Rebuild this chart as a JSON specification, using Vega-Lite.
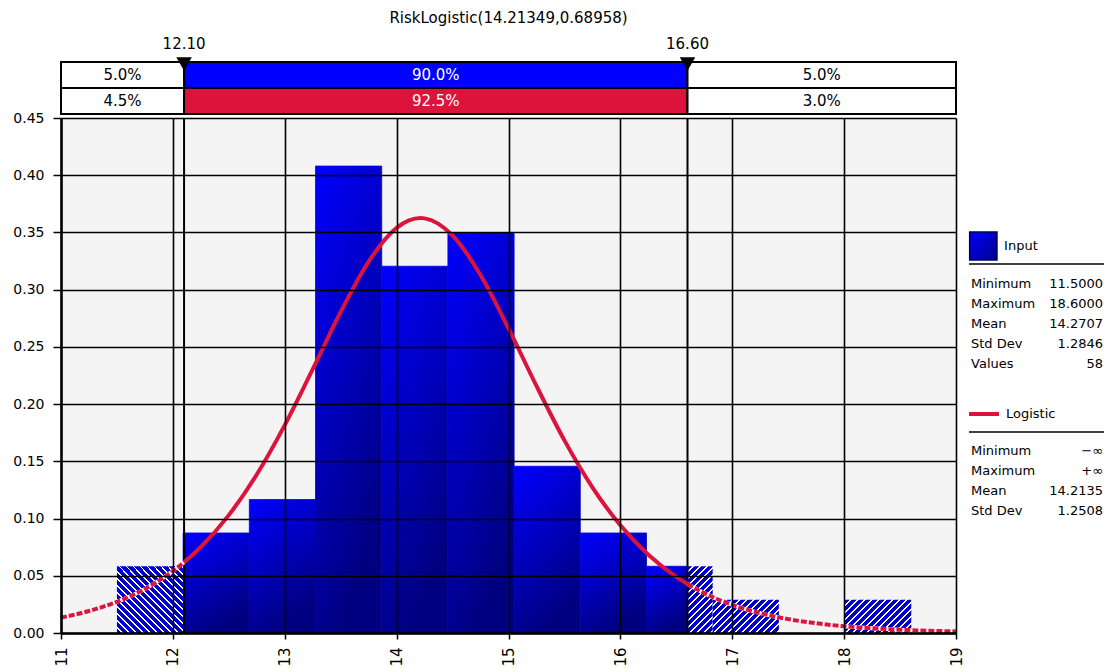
{
  "$schema": "https://vega.github.io/schema/vega-lite/v6.json",
  "padding": {"left": 12, "top": 11, "right": 4, "bottom": 0},
  "background": "white",
  "config": {"font": "DejaVu Sans", "view": {"stroke": null}},
  "datasets": {
    "bins": [
      {"start": 11.5, "end": 12.0917, "density": 0.0583, "zone": "out", "id": "a"},
      {"start": 12.0917, "end": 12.6833, "density": 0.0874, "zone": "in", "id": "s1"},
      {"start": 12.6833, "end": 13.275, "density": 0.1166, "zone": "in", "id": "s2"},
      {"start": 13.275, "end": 13.8667, "density": 0.408, "zone": "in", "id": "s3"},
      {"start": 13.8667, "end": 14.4583, "density": 0.3205, "zone": "in", "id": "s4"},
      {"start": 14.4583, "end": 15.05, "density": 0.3497, "zone": "in", "id": "s5"},
      {"start": 15.05, "end": 15.6417, "density": 0.1457, "zone": "in", "id": "s6"},
      {"start": 15.6417, "end": 16.2333, "density": 0.0874, "zone": "in", "id": "s7"},
      {"start": 16.2333, "end": 16.6, "density": 0.0583, "zone": "in", "id": "s8"},
      {"start": 16.6, "end": 16.825, "density": 0.0583, "zone": "out", "id": "b"},
      {"start": 16.825, "end": 17.4167, "density": 0.0291, "zone": "out", "id": "c"},
      {"start": 18.0083, "end": 18.6, "density": 0.0291, "zone": "out", "id": "d"}
    ],
    "curve": [
      {"x": 11, "y": 0.01347, "part": "left"},
      {"x": 11.25, "y": 0.0192, "part": "left"},
      {"x": 11.5, "y": 0.02727, "part": "left"},
      {"x": 11.75, "y": 0.03854, "part": "left"},
      {"x": 12, "y": 0.05408, "part": "left"},
      {"x": 12.1, "y": 0.06177, "part": "left"},
      {"x": 12.1, "y": 0.06177, "part": "mid"},
      {"x": 12.25, "y": 0.07514, "part": "mid"},
      {"x": 12.5, "y": 0.10298, "part": "mid"},
      {"x": 12.75, "y": 0.13851, "part": "mid"},
      {"x": 13, "y": 0.18165, "part": "mid"},
      {"x": 13.25, "y": 0.23051, "part": "mid"},
      {"x": 13.5, "y": 0.28052, "part": "mid"},
      {"x": 13.75, "y": 0.32449, "part": "mid"},
      {"x": 14, "y": 0.35399, "part": "mid"},
      {"x": 14.2135, "y": 0.36254, "part": "mid"},
      {"x": 14.25, "y": 0.36229, "part": "mid"},
      {"x": 14.5, "y": 0.34733, "part": "mid"},
      {"x": 14.75, "y": 0.31277, "part": "mid"},
      {"x": 15, "y": 0.26617, "part": "mid"},
      {"x": 15.25, "y": 0.21586, "part": "mid"},
      {"x": 15.5, "y": 0.16833, "part": "mid"},
      {"x": 15.75, "y": 0.12731, "part": "mid"},
      {"x": 16, "y": 0.09408, "part": "mid"},
      {"x": 16.25, "y": 0.06834, "part": "mid"},
      {"x": 16.5, "y": 0.04902, "part": "mid"},
      {"x": 16.6, "y": 0.04281, "part": "mid"},
      {"x": 16.6, "y": 0.04281, "part": "right"},
      {"x": 16.75, "y": 0.03486, "part": "right"},
      {"x": 17, "y": 0.02462, "part": "right"},
      {"x": 17.25, "y": 0.01732, "part": "right"},
      {"x": 17.5, "y": 0.01214, "part": "right"},
      {"x": 17.75, "y": 0.00849, "part": "right"},
      {"x": 18, "y": 0.00593, "part": "right"},
      {"x": 18.25, "y": 0.00414, "part": "right"},
      {"x": 18.5, "y": 0.00288, "part": "right"},
      {"x": 18.75, "y": 0.00201, "part": "right"},
      {"x": 19, "y": 0.0014, "part": "right"}
    ],
    "delims": [
      {"value": 12.1, "label": "12.10"},
      {"value": 16.6, "label": "16.60"}
    ],
    "topbars": [
      {"row": "Input", "start": 11, "end": 12.1, "label": "5.0%", "zone": "left"},
      {"row": "Input", "start": 12.1, "end": 16.6, "label": "90.0%", "zone": "mid"},
      {"row": "Input", "start": 16.6, "end": 19, "label": "5.0%", "zone": "right"},
      {"row": "Logistic", "start": 11, "end": 12.1, "label": "4.5%", "zone": "left"},
      {"row": "Logistic", "start": 12.1, "end": 16.6, "label": "92.5%", "zone": "mid"},
      {"row": "Logistic", "start": 16.6, "end": 19, "label": "3.0%", "zone": "right"}
    ],
    "stats": [
      {"label": "Minimum", "value": "11.5000", "line": 12.4},
      {"label": "Maximum", "value": "18.6000", "line": 13.4},
      {"label": "Mean", "value": "14.2707", "line": 14.4},
      {"label": "Std Dev", "value": "1.2846", "line": 15.4},
      {"label": "Values", "value": "58", "line": 16.4},
      {"label": "Minimum", "value": "−∞", "line": 20.75},
      {"label": "Maximum", "value": "+∞", "line": 21.75},
      {"label": "Mean", "value": "14.2135", "line": 22.75},
      {"label": "Std Dev", "value": "1.2508", "line": 23.75}
    ]
  },
  "hconcat": [
    {
      "spacing": 4,
      "bounds": "flush",
      "vconcat": [
        {
          "width": 895,
          "height": 78,
          "title": {"text": "RiskLogistic(14.21349,0.68958)", "fontSize": 15, "fontWeight": "normal", "offset": 10, "color": "black", "font": "DejaVu Sans"},
          "layer": [
            {
              "data": {"name": "topbars"},
              "mark": {"type": "bar", "stroke": "black", "strokeWidth": 2},
              "encoding": {
                "x": {"field": "start", "type": "quantitative", "scale": {"domain": [11, 19], "nice": false, "zero": false}, "axis": null},
                "x2": {"field": "end"},
                "y": {"field": "row", "type": "nominal", "scale": {"domain": ["marker", "Input", "Logistic"], "paddingInner": 0, "paddingOuter": 0}, "axis": null},
                "fill": {"condition": [{"test": "datum.zone == 'mid' && datum.row == 'Input'", "value": "#0000ff"}, {"test": "datum.zone == 'mid'", "value": "#dc143c"}], "value": "white"}
              }
            },
            {
              "data": {"name": "topbars"},
              "transform": [{"fold": ["start", "end"], "as": ["edge", "pos"]}],
              "mark": {"type": "text", "fontSize": 15, "baseline": "middle"},
              "encoding": {
                "x": {"aggregate": "mean", "field": "pos", "type": "quantitative"},
                "y": {"field": "row", "type": "nominal"},
                "text": {"field": "label"},
                "detail": {"field": "zone"},
                "color": {"condition": {"test": "datum.zone == 'mid'", "value": "white"}, "value": "black"}
              }
            },
            {
              "data": {"name": "delims"},
              "mark": {"type": "point", "shape": "triangle-down", "filled": true, "color": "black", "size": 240, "opacity": 1},
              "encoding": {
                "x": {"field": "value", "type": "quantitative"},
                "y": {"datum": "marker", "type": "nominal", "bandPosition": 1.08}
              }
            },
            {
              "data": {"name": "delims"},
              "mark": {"type": "text", "fontSize": 15, "baseline": "middle", "color": "black"},
              "encoding": {
                "x": {"field": "value", "type": "quantitative"},
                "y": {"datum": "marker", "type": "nominal", "bandPosition": 0.31},
                "text": {"field": "label"}
              }
            }
          ]
        },
        {
          "width": 895,
          "height": 515,
          "view": {"fill": "#f4f4f4", "stroke": null},
          "layer": [
            {
              "data": {"name": "bins"},
              "transform": [{"filter": "datum.zone == 'in'"}],
              "mark": {"type": "rect",
                "fill": {"gradient": "linear", "x1": 0, "y1": 0, "x2": 0.4, "y2": 1, "stops": [{"offset": 0, "color": "#0000ff"}, {"offset": 1, "color": "#000080"}]},
                "stroke": {"gradient": "linear", "x1": 0, "y1": 0, "x2": 0.4, "y2": 1, "stops": [{"offset": 0, "color": "#0000ff"}, {"offset": 1, "color": "#000080"}]},
                "strokeWidth": 0.8},
              "encoding": {
                "x": {"field": "start", "type": "quantitative", "scale": {"domain": [11, 19], "nice": false, "zero": false},
                  "axis": {"values": [11, 12, 13, 14, 15, 16, 17, 18, 19], "format": "d", "grid": true, "gridColor": "black", "gridWidth": 1.6, "gridOpacity": 1, "domainColor": "black", "domainWidth": 2.5, "tickColor": "black", "tickSize": 6, "tickWidth": 1.5, "labelAngle": 270, "labelFontSize": 15, "labelColor": "black", "labelPadding": 8, "title": null, "zindex": 1}},
                "x2": {"field": "end"},
                "y": {"field": "density", "type": "quantitative", "scale": {"domain": [0, 0.45], "nice": false},
                  "axis": {"values": [0, 0.05, 0.1, 0.15, 0.2, 0.25, 0.3, 0.35, 0.4, 0.45], "format": ".2f", "grid": true, "gridColor": "black", "gridWidth": 1.6, "gridOpacity": 1, "domainColor": "black", "domainWidth": 2.5, "tickColor": "black", "tickSize": 8, "tickWidth": 1.5, "labelFontSize": 14, "labelColor": "black", "labelPadding": 9, "title": null, "zindex": 1}},
                "y2": {"datum": 0}
              }
            },
            {
              "data": {"name": "bins"},
              "transform": [{"filter": "datum.zone == 'out'"}],
              "mark": {"type": "rect"},
              "encoding": {
                "x": {"field": "start", "type": "quantitative"},
                "x2": {"field": "end"},
                "y": {"field": "density", "type": "quantitative"},
                "y2": {"datum": 0},
                "fill": {
                  "condition": [
                    {"test": "datum.id == 'a'", "value": {"gradient": "linear", "x1": 0, "y1": 1, "x2": 1.0495, "y2": -0.0574, "stops": [
                      {"offset": 0, "color": "#0000cc"}, {"offset": 0.036, "color": "#0000cc"}, {"offset": 0.036, "color": "#fff"}, {"offset": 0.05, "color": "#fff"},
                      {"offset": 0.05, "color": "#0000cc"}, {"offset": 0.086, "color": "#0000cc"}, {"offset": 0.086, "color": "#fff"}, {"offset": 0.1, "color": "#fff"},
                      {"offset": 0.1, "color": "#0000cc"}, {"offset": 0.136, "color": "#0000cc"}, {"offset": 0.136, "color": "#fff"}, {"offset": 0.15, "color": "#fff"},
                      {"offset": 0.15, "color": "#0000cc"}, {"offset": 0.186, "color": "#0000cc"}, {"offset": 0.186, "color": "#fff"}, {"offset": 0.2, "color": "#fff"},
                      {"offset": 0.2, "color": "#0000cc"}, {"offset": 0.236, "color": "#0000cc"}, {"offset": 0.236, "color": "#fff"}, {"offset": 0.25, "color": "#fff"},
                      {"offset": 0.25, "color": "#0000cc"}, {"offset": 0.286, "color": "#0000cc"}, {"offset": 0.286, "color": "#fff"}, {"offset": 0.3, "color": "#fff"},
                      {"offset": 0.3, "color": "#0000cc"}, {"offset": 0.336, "color": "#0000cc"}, {"offset": 0.336, "color": "#fff"}, {"offset": 0.35, "color": "#fff"},
                      {"offset": 0.35, "color": "#0000cc"}, {"offset": 0.386, "color": "#0000cc"}, {"offset": 0.386, "color": "#fff"}, {"offset": 0.4, "color": "#fff"},
                      {"offset": 0.4, "color": "#0000cc"}, {"offset": 0.436, "color": "#0000cc"}, {"offset": 0.436, "color": "#fff"}, {"offset": 0.45, "color": "#fff"},
                      {"offset": 0.45, "color": "#0000cc"}, {"offset": 0.486, "color": "#0000cc"}, {"offset": 0.486, "color": "#fff"}, {"offset": 0.5, "color": "#fff"},
                      {"offset": 0.5, "color": "#0000cc"}, {"offset": 0.536, "color": "#0000cc"}, {"offset": 0.536, "color": "#fff"}, {"offset": 0.55, "color": "#fff"},
                      {"offset": 0.55, "color": "#0000cc"}, {"offset": 0.586, "color": "#0000cc"}, {"offset": 0.586, "color": "#fff"}, {"offset": 0.6, "color": "#fff"},
                      {"offset": 0.6, "color": "#0000cc"}, {"offset": 0.636, "color": "#0000cc"}, {"offset": 0.636, "color": "#fff"}, {"offset": 0.65, "color": "#fff"},
                      {"offset": 0.65, "color": "#0000cc"}, {"offset": 0.686, "color": "#0000cc"}, {"offset": 0.686, "color": "#fff"}, {"offset": 0.7, "color": "#fff"},
                      {"offset": 0.7, "color": "#0000cc"}, {"offset": 0.736, "color": "#0000cc"}, {"offset": 0.736, "color": "#fff"}, {"offset": 0.75, "color": "#fff"},
                      {"offset": 0.75, "color": "#0000cc"}, {"offset": 0.786, "color": "#0000cc"}, {"offset": 0.786, "color": "#fff"}, {"offset": 0.8, "color": "#fff"},
                      {"offset": 0.8, "color": "#0000cc"}, {"offset": 0.836, "color": "#0000cc"}, {"offset": 0.836, "color": "#fff"}, {"offset": 0.85, "color": "#fff"},
                      {"offset": 0.85, "color": "#0000cc"}, {"offset": 0.886, "color": "#0000cc"}, {"offset": 0.886, "color": "#fff"}, {"offset": 0.9, "color": "#fff"},
                      {"offset": 0.9, "color": "#0000cc"}, {"offset": 0.936, "color": "#0000cc"}, {"offset": 0.936, "color": "#fff"}, {"offset": 0.95, "color": "#fff"},
                      {"offset": 0.95, "color": "#0000cc"}, {"offset": 0.986, "color": "#0000cc"}, {"offset": 0.986, "color": "#fff"}, {"offset": 1, "color": "#fff"}
                    ]}},
                    {"test": "datum.id == 'b'", "value": {"gradient": "linear", "x1": 0, "y1": 0, "x2": 0.6933, "y2": 1.8373, "stops": [
                      {"offset": 0, "color": "#0000cc"}, {"offset": 0.036, "color": "#0000cc"}, {"offset": 0.036, "color": "#fff"}, {"offset": 0.05, "color": "#fff"},
                      {"offset": 0.05, "color": "#0000cc"}, {"offset": 0.086, "color": "#0000cc"}, {"offset": 0.086, "color": "#fff"}, {"offset": 0.1, "color": "#fff"},
                      {"offset": 0.1, "color": "#0000cc"}, {"offset": 0.136, "color": "#0000cc"}, {"offset": 0.136, "color": "#fff"}, {"offset": 0.15, "color": "#fff"},
                      {"offset": 0.15, "color": "#0000cc"}, {"offset": 0.186, "color": "#0000cc"}, {"offset": 0.186, "color": "#fff"}, {"offset": 0.2, "color": "#fff"},
                      {"offset": 0.2, "color": "#0000cc"}, {"offset": 0.236, "color": "#0000cc"}, {"offset": 0.236, "color": "#fff"}, {"offset": 0.25, "color": "#fff"},
                      {"offset": 0.25, "color": "#0000cc"}, {"offset": 0.286, "color": "#0000cc"}, {"offset": 0.286, "color": "#fff"}, {"offset": 0.3, "color": "#fff"},
                      {"offset": 0.3, "color": "#0000cc"}, {"offset": 0.336, "color": "#0000cc"}, {"offset": 0.336, "color": "#fff"}, {"offset": 0.35, "color": "#fff"},
                      {"offset": 0.35, "color": "#0000cc"}, {"offset": 0.386, "color": "#0000cc"}, {"offset": 0.386, "color": "#fff"}, {"offset": 0.4, "color": "#fff"},
                      {"offset": 0.4, "color": "#0000cc"}, {"offset": 0.436, "color": "#0000cc"}, {"offset": 0.436, "color": "#fff"}, {"offset": 0.45, "color": "#fff"},
                      {"offset": 0.45, "color": "#0000cc"}, {"offset": 0.486, "color": "#0000cc"}, {"offset": 0.486, "color": "#fff"}, {"offset": 0.5, "color": "#fff"},
                      {"offset": 0.5, "color": "#0000cc"}, {"offset": 0.536, "color": "#0000cc"}, {"offset": 0.536, "color": "#fff"}, {"offset": 0.55, "color": "#fff"},
                      {"offset": 0.55, "color": "#0000cc"}, {"offset": 0.586, "color": "#0000cc"}, {"offset": 0.586, "color": "#fff"}, {"offset": 0.6, "color": "#fff"},
                      {"offset": 0.6, "color": "#0000cc"}, {"offset": 0.636, "color": "#0000cc"}, {"offset": 0.636, "color": "#fff"}, {"offset": 0.65, "color": "#fff"},
                      {"offset": 0.65, "color": "#0000cc"}, {"offset": 0.686, "color": "#0000cc"}, {"offset": 0.686, "color": "#fff"}, {"offset": 0.7, "color": "#fff"},
                      {"offset": 0.7, "color": "#0000cc"}, {"offset": 0.736, "color": "#0000cc"}, {"offset": 0.736, "color": "#fff"}, {"offset": 0.75, "color": "#fff"},
                      {"offset": 0.75, "color": "#0000cc"}, {"offset": 1, "color": "#0000cc"}
                    ]}}
                  ],
                  "value": {"gradient": "linear", "x1": 0, "y1": 0, "x2": 1.6878, "y2": 0.849, "stops": [
                    {"offset": 0, "color": "#0000cc"}, {"offset": 0.036, "color": "#0000cc"}, {"offset": 0.036, "color": "#fff"}, {"offset": 0.05, "color": "#fff"},
                    {"offset": 0.05, "color": "#0000cc"}, {"offset": 0.086, "color": "#0000cc"}, {"offset": 0.086, "color": "#fff"}, {"offset": 0.1, "color": "#fff"},
                    {"offset": 0.1, "color": "#0000cc"}, {"offset": 0.136, "color": "#0000cc"}, {"offset": 0.136, "color": "#fff"}, {"offset": 0.15, "color": "#fff"},
                    {"offset": 0.15, "color": "#0000cc"}, {"offset": 0.186, "color": "#0000cc"}, {"offset": 0.186, "color": "#fff"}, {"offset": 0.2, "color": "#fff"},
                    {"offset": 0.2, "color": "#0000cc"}, {"offset": 0.236, "color": "#0000cc"}, {"offset": 0.236, "color": "#fff"}, {"offset": 0.25, "color": "#fff"},
                    {"offset": 0.25, "color": "#0000cc"}, {"offset": 0.286, "color": "#0000cc"}, {"offset": 0.286, "color": "#fff"}, {"offset": 0.3, "color": "#fff"},
                    {"offset": 0.3, "color": "#0000cc"}, {"offset": 0.336, "color": "#0000cc"}, {"offset": 0.336, "color": "#fff"}, {"offset": 0.35, "color": "#fff"},
                    {"offset": 0.35, "color": "#0000cc"}, {"offset": 0.386, "color": "#0000cc"}, {"offset": 0.386, "color": "#fff"}, {"offset": 0.4, "color": "#fff"},
                    {"offset": 0.4, "color": "#0000cc"}, {"offset": 0.436, "color": "#0000cc"}, {"offset": 0.436, "color": "#fff"}, {"offset": 0.45, "color": "#fff"},
                    {"offset": 0.45, "color": "#0000cc"}, {"offset": 0.486, "color": "#0000cc"}, {"offset": 0.486, "color": "#fff"}, {"offset": 0.5, "color": "#fff"},
                    {"offset": 0.5, "color": "#0000cc"}, {"offset": 0.536, "color": "#0000cc"}, {"offset": 0.536, "color": "#fff"}, {"offset": 0.55, "color": "#fff"},
                    {"offset": 0.55, "color": "#0000cc"}, {"offset": 0.586, "color": "#0000cc"}, {"offset": 0.586, "color": "#fff"}, {"offset": 0.6, "color": "#fff"},
                    {"offset": 0.6, "color": "#0000cc"}, {"offset": 0.636, "color": "#0000cc"}, {"offset": 0.636, "color": "#fff"}, {"offset": 0.65, "color": "#fff"},
                    {"offset": 0.65, "color": "#0000cc"}, {"offset": 0.686, "color": "#0000cc"}, {"offset": 0.686, "color": "#fff"}, {"offset": 0.7, "color": "#fff"},
                    {"offset": 0.7, "color": "#0000cc"}, {"offset": 0.736, "color": "#0000cc"}, {"offset": 0.736, "color": "#fff"}, {"offset": 0.75, "color": "#fff"},
                    {"offset": 0.75, "color": "#0000cc"}, {"offset": 1, "color": "#0000cc"}
                  ]}
                }
              }
            },
            {
              "data": {"name": "delims"},
              "mark": {"type": "rule", "color": "black", "strokeWidth": 2},
              "encoding": {"x": {"field": "value", "type": "quantitative"}}
            },
            {
              "data": {"name": "curve"},
              "transform": [{"filter": "datum.part != 'mid'"}],
              "mark": {"type": "line", "color": "white", "strokeWidth": 4, "interpolate": "monotone"},
              "encoding": {
                "x": {"field": "x", "type": "quantitative"},
                "y": {"field": "y", "type": "quantitative"},
                "detail": {"field": "part"}
              }
            },
            {
              "data": {"name": "curve"},
              "transform": [{"filter": "datum.part != 'mid'"}],
              "mark": {"type": "line", "color": "#dc143c", "strokeWidth": 4, "interpolate": "monotone", "strokeDash": [6, 2]},
              "encoding": {
                "x": {"field": "x", "type": "quantitative"},
                "y": {"field": "y", "type": "quantitative"},
                "detail": {"field": "part"}
              }
            },
            {
              "data": {"name": "curve"},
              "transform": [{"filter": "datum.part == 'mid'"}],
              "mark": {"type": "line", "color": "#dc143c", "strokeWidth": 4, "interpolate": "monotone"},
              "encoding": {
                "x": {"field": "x", "type": "quantitative"},
                "y": {"field": "y", "type": "quantitative"}
              }
            }
          ]
        }
      ]
    },
    {
      "width": 135,
      "height": 597,
      "layer": [
        {
          "data": {"values": [{}]},
          "mark": {"type": "rect", "fill": {"gradient": "linear", "x1": 0, "y1": 0, "x2": 1, "y2": 1, "stops": [{"offset": 0, "color": "#0000ff"}, {"offset": 1, "color": "#00008b"}]}, "stroke": "#000050", "strokeWidth": 1.5},
          "encoding": {
            "x": {"datum": 0.005, "type": "quantitative", "scale": {"domain": [0, 1], "nice": false, "zero": false}, "axis": null},
            "x2": {"datum": 0.207},
            "y": {"datum": 9.8, "type": "quantitative", "scale": {"domain": [0, 29.85], "nice": false, "zero": false, "reverse": true}, "axis": null},
            "y2": {"datum": 11.2}
          }
        },
        {
          "data": {"values": [{}]},
          "mark": {"type": "text", "text": "Input", "fontSize": 13, "align": "left", "baseline": "middle", "color": "black"},
          "encoding": {"x": {"datum": 0.26, "type": "quantitative"}, "y": {"datum": 10.5, "type": "quantitative"}}
        },
        {
          "data": {"values": [{}]},
          "mark": {"type": "rule", "color": "black", "strokeWidth": 1.5},
          "encoding": {"x": {"datum": 0, "type": "quantitative"}, "x2": {"datum": 1}, "y": {"datum": 11.4, "type": "quantitative"}}
        },
        {
          "data": {"values": [{}]},
          "mark": {"type": "rule", "color": "#dc143c", "strokeWidth": 4},
          "encoding": {"x": {"datum": 0, "type": "quantitative"}, "x2": {"datum": 0.222}, "y": {"datum": 18.9, "type": "quantitative"}}
        },
        {
          "data": {"values": [{}]},
          "mark": {"type": "text", "text": "Logistic", "fontSize": 13, "align": "left", "baseline": "middle", "color": "black"},
          "encoding": {"x": {"datum": 0.274, "type": "quantitative"}, "y": {"datum": 18.9, "type": "quantitative"}}
        },
        {
          "data": {"values": [{}]},
          "mark": {"type": "rule", "color": "black", "strokeWidth": 1.5},
          "encoding": {"x": {"datum": 0, "type": "quantitative"}, "x2": {"datum": 1}, "y": {"datum": 19.8, "type": "quantitative"}}
        },
        {
          "data": {"name": "stats"},
          "mark": {"type": "text", "fontSize": 13, "align": "left", "baseline": "middle", "color": "black"},
          "encoding": {"x": {"datum": 0.015, "type": "quantitative"}, "y": {"field": "line", "type": "quantitative"}, "text": {"field": "label"}}
        },
        {
          "data": {"name": "stats"},
          "mark": {"type": "text", "fontSize": 13, "align": "right", "baseline": "middle", "color": "black"},
          "encoding": {"x": {"datum": 0.993, "type": "quantitative"}, "y": {"field": "line", "type": "quantitative"}, "text": {"field": "value"}}
        }
      ]
    }
  ],
  "spacing": 3
}
